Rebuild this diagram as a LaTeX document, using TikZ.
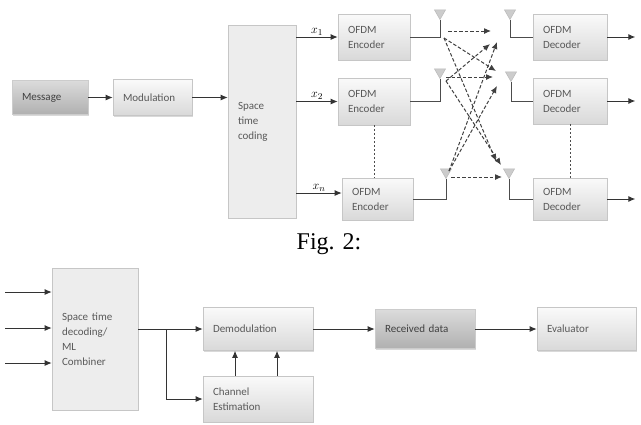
\documentclass[tikz,border=0pt]{standalone}
\usepackage{fontspec}
\newfontfamily\boxfont{Carlito}
\newfontfamily\capfont{Liberation Serif}
\usetikzlibrary{arrows.meta,positioning,shapes.geometric,shadows,calc}

\tikzset{
  base/.style={draw=gray!45, line width=0.6pt, align=left, inner xsep=10pt, text=gray!70!black, font=\boxfont\fontsize{11}{15}\selectfont, drop shadow={shadow xshift=1.2pt, shadow yshift=-1.2pt, opacity=0.3}},
  light/.style 2 args={base, text width=#1, minimum height=#2, top color=gray!4, bottom color=gray!30},
  dark/.style 2 args={base, text width=#1, minimum height=#2, top color=gray!28, bottom color=gray!62, draw=gray!40, text=black!75},
  panel/.style 2 args={base, text width=#1, minimum height=#2, fill=gray!14},
  ant/.style={regular polygon, regular polygon sides=3, shape border rotate=180, minimum size=13pt, inner sep=0pt, fill=gray!40, draw=gray!55, line width=0.5pt},
  sig/.style={font=\fontsize{13}{15}\selectfont, inner sep=1.5pt},
  arrow/.style={->, line width=0.9pt, draw=black!80},
  wire/.style={line width=0.9pt, draw=gray!60!black},
  link/.style={-{Latex[length=7pt,width=6pt]}, dashed, dash pattern=on 3.5pt off 2pt, line width=1pt, draw=black!75},
  dotline/.style={dashed, dash pattern=on 2pt off 2pt, line width=0.9pt, draw=gray!60!black},
}

\begin{document}
\begin{tikzpicture}[x=1pt, y=-1pt, >={Latex[length=7pt,width=6pt]}]
\useasboundingbox (0,0) rectangle (641,424);

% Transmitter
\node (msg) [dark={56pt}{34pt}] at (50,97.5) {Message};
\node (mod) [light={59pt}{36pt}] at (152.5,97.5) {Modulation};
\node (stc) [panel={48pt}{193pt}] at (262,121.5) {Space\\time\\coding};
\draw[arrow] (msg) -- (mod);
\draw[arrow] (mod.east) -- (mod.east -| stc.west);

% OFDM encoders
\node (enc1) [light={52pt}{46pt}] at (374,37) {OFDM\\Encoder};
\node (enc2) [light={52pt}{47pt}] at (374,101.5) {OFDM\\Encoder};
\node (enc3) [light={51pt}{42pt}] at (377.5,199) {OFDM\\Encoder};
\coordinate (xnin) at ($(enc3.west)+(0,-6)$);
\draw[arrow] (stc.east |- enc1.west) -- node[sig, above]{$x_1$} (enc1.west);
\draw[arrow] (stc.east |- enc2.west) -- node[sig, above]{$x_2$} (enc2.west);
\draw[arrow] (stc.east |- xnin) -- node[sig, above]{$x_n$} (xnin);
\draw[dotline] (enc2.south) -- (enc2.south |- enc3.north);

% Antennas
\node (tx1) [ant] at (440,13) {};
\node (tx2) [ant] at (440,72) {};
\node (tx3) [ant] at (446,172) {};
\node (rx1) [ant] at (510,13) {};
\node (rx2) [ant] at (511,75) {};
\node (rx3) [ant] at (509,172) {};
\draw[wire] (enc1.east) -| (tx1.south);
\draw[wire] (enc2.east) -| (tx2.south);
\draw[wire] (enc3.east) -| (tx3.south);

% OFDM decoders
\node (dec1) [light={54pt}{46pt}] at (570,37) {OFDM\\Decoder};
\node (dec2) [light={54pt}{46pt}] at (570,101) {OFDM\\Decoder};
\node (dec3) [light={54pt}{42pt}] at (570,199) {OFDM\\Decoder};
\draw[wire] (rx1.south) |- (dec1.west);
\draw[wire] (rx2.south) |- (dec2.west);
\draw[wire] (rx3.south) |- (dec3.west);
\draw[dotline] (dec2.south) -- (dec2.south |- dec3.north);
\coordinate[right=28pt of dec1.east] (o1);
\coordinate[right=28pt of dec2.east] (o2);
\coordinate[right=28pt of dec3.east] (o3);
\draw[arrow] (dec1.east) -- (o1);
\draw[arrow] (dec2.east) -- (o2);
\draw[arrow] (dec3.east) -- (o3);

% Channel paths
\coordinate (t1) at (448,31);
\coordinate (t2) at (446,77);
\coordinate (t3) at (451,177);
\coordinate (t1d) at (444,38);
\coordinate (t2d) at (446,81);
\coordinate (t3d) at (449,171);
\coordinate (r1) at (491,31);
\coordinate (r2) at (493,77);
\coordinate (r3) at (502,177);
\coordinate (r1b) at (490,44);
\coordinate (r1c) at (497,42);
\coordinate (r2a) at (496,71);
\coordinate (r2c) at (497,86);
\coordinate (r3a) at (496,161);
\coordinate (r3b) at (501,165);
\draw[link] (t1) -- (r1);
\draw[link] (t2) -- (r2);
\draw[link] (t3) -- (r3);
\draw[link] (t1d) -- (r2a);
\draw[link] (t1d) -- (r3a);
\draw[link] (t2d) -- (r1b);
\draw[link] (t2d) -- (r3b);
\draw[link] (t3d) -- (r1c);
\draw[link] (t3d) -- (r2c);

\node (cap) [font=\capfont\fontsize{24}{26}\selectfont] at (329,244) {Fig. 2:};

% Receiver
\coordinate (in1) at (5,292);
\coordinate (in2) at (5,328);
\coordinate (in3) at (5,363);
\node (stcd) [panel={66pt}{142pt}] at (95,339) {Space time\\decoding/\\ML\\Combiner};
\foreach \i in {1,2,3}
  \draw[arrow] (in\i) -- (stcd.west |- in\i);

\node (demod) [light={90pt}{43pt}] at (258,329) {Demodulation};
\node (chest) [light={90pt}{46pt}] at (258,399) {Channel\\Estimation};
\node (rec) [dark={80pt}{39pt}] at (425,329) {Received data};
\node (eval) [light={79pt}{43pt}] at (586.5,329) {Evaluator};

\coordinate (split) at ($(stcd.east |- demod.west)!0.43!(demod.west)$);
\draw[arrow] (stcd.east |- demod.west) -- (demod.west);
\draw[arrow] (split) |- (chest.west);
\draw[arrow] ([xshift=-23pt]chest.north) -- ([xshift=-23pt]demod.south);
\draw[arrow] ([xshift=19pt]chest.north) -- ([xshift=19pt]demod.south);
\draw[arrow] (demod) -- (rec);
\draw[arrow] (rec) -- (eval);

\end{tikzpicture}
\end{document}
